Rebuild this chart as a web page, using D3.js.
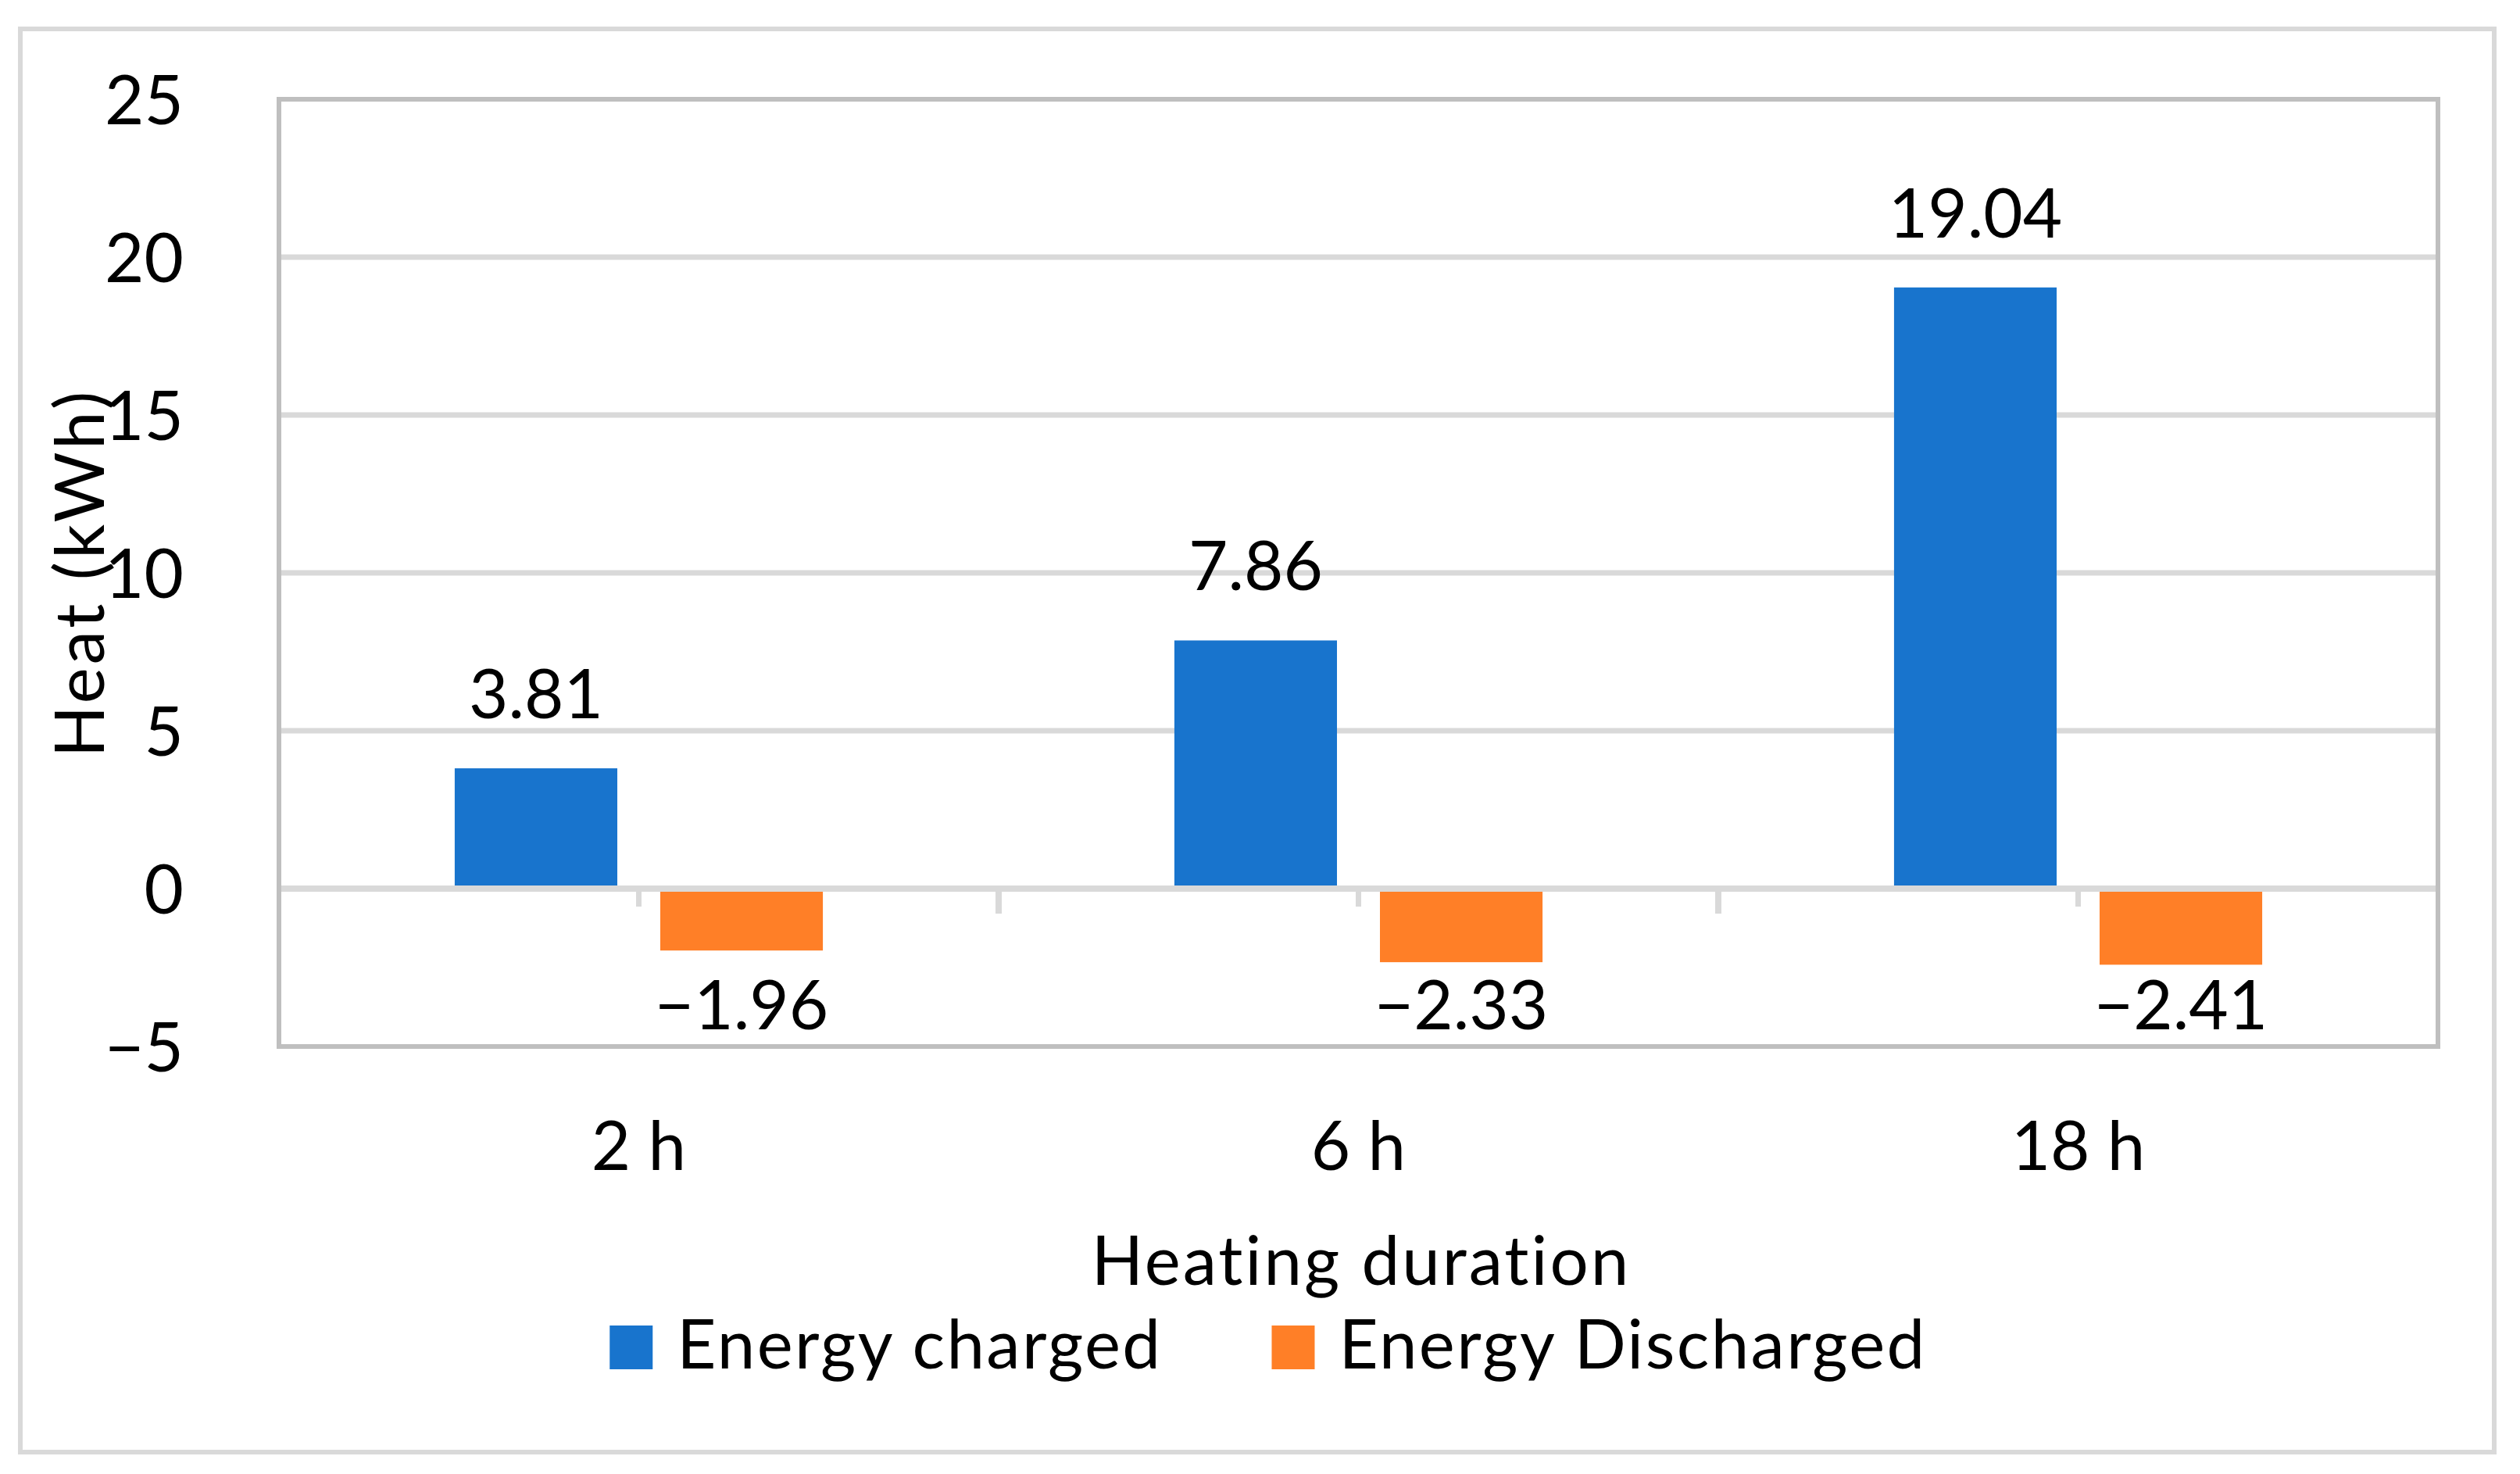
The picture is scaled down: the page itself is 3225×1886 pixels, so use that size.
<!DOCTYPE html>
<html><head><meta charset="utf-8">
<script src="https://cdn.jsdelivr.net/npm/d3@7"></script>
<style>
body{margin:0;background:#fff}
svg{display:block}
text{font-family:Lato,"Open Sans",sans-serif;fill:#000}
</style>
</head><body>
<svg id="c" width="3225" height="1886"></svg>
<script>
const categories = ["2 h", "6 h", "18 h"];
const seriesNames = ["Energy charged", "Energy Discharged"];
const energyCharged = [3.81, 7.86, 19.04];
const energyDischarged = [-1.96, -2.33, -2.41];
const yTickValues = [-5, 0, 5, 10, 15, 20, 25];
const seriesColors = ["#1874CD", "#FF7F27"];
const xTitle = "Heating duration";
const yTitle = "Heat (kWh)";

const W = 3225, H = 1886;
const FS = 87;
const LS = "3px";
const plot = {left: 357, right: 3120, top: 127, bottom: 1339};
const svg = d3.select("#c");

// outer border
svg.append("rect").attr("x", 26).attr("y", 37).attr("width", 3192 - 26).attr("height", 1858 - 37)
  .attr("fill", "none").attr("stroke", "#d9d9d9").attr("stroke-width", 6);

const x0 = d3.scaleBand().domain(categories).range([plot.left, plot.right]).padding(0);
const x1 = d3.scaleBand().domain(seriesNames).range([0, x0.bandwidth()]).paddingInner(0.209).paddingOuter(0.855);
const y = d3.scaleLinear().domain([-5, 25]).range([plot.bottom, plot.top]);

const fmt = v => d3.format(".2f")(v);

// gridlines (excluding zero and borders)
svg.append("g").selectAll("line").data(yTickValues.filter(v => v !== 0 && v !== -5 && v !== 25)).join("line")
  .attr("x1", plot.left).attr("x2", plot.right)
  .attr("y1", d => y(d)).attr("y2", d => y(d))
  .attr("stroke", "#d9d9d9").attr("stroke-width", 7);

// y tick labels via axis
const yAxis = svg.append("g").attr("transform", `translate(${plot.left},0)`)
  .call(d3.axisLeft(y).tickValues(yTickValues).tickSize(0).tickPadding(122).tickFormat(d3.format("d")));
yAxis.select(".domain").remove();
yAxis.selectAll("text").attr("font-size", FS).attr("font-family", "Lato").attr("fill", "#000").attr("dy", "0.36em");

// bars
const data = categories.map((c, i) => ({cat: c, vals: [
  {s: seriesNames[0], v: energyCharged[i], c: seriesColors[0]},
  {s: seriesNames[1], v: energyDischarged[i], c: seriesColors[1]}
]}));
const groups = svg.append("g").selectAll("g").data(data).join("g")
  .attr("transform", d => `translate(${x0(d.cat)},0)`);
groups.selectAll("rect").data(d => d.vals).join("rect")
  .attr("x", d => x1(d.s)).attr("width", x1.bandwidth())
  .attr("y", d => y(Math.max(0, d.v))).attr("height", d => Math.abs(y(d.v) - y(0)))
  .attr("fill", d => d.c);

// zero line
svg.append("line").attr("x1", plot.left).attr("x2", plot.right).attr("y1", y(0)).attr("y2", y(0))
  .attr("stroke", "#d9d9d9").attr("stroke-width", 8);

// category ticks (boundaries and centers)
const boundaries = categories.map(c => x0(c)).concat([x0(categories[categories.length - 1]) + x0.bandwidth()]);
svg.append("g").selectAll("line").data(boundaries.slice(1, -1)).join("line")
  .attr("x1", d => d).attr("x2", d => d).attr("y1", y(0) + 4).attr("y2", y(0) + 32)
  .attr("stroke", "#d9d9d9").attr("stroke-width", 8);
svg.append("g").selectAll("line").data(categories).join("line")
  .attr("x1", d => x0(d) + x0.bandwidth() / 2).attr("x2", d => x0(d) + x0.bandwidth() / 2)
  .attr("y1", y(0) + 4).attr("y2", y(0) + 23)
  .attr("stroke", "#d9d9d9").attr("stroke-width", 7);

// plot border
svg.append("rect").attr("x", plot.left).attr("y", plot.top)
  .attr("width", plot.right - plot.left).attr("height", plot.bottom - plot.top)
  .attr("fill", "none").attr("stroke", "#bfbfbf").attr("stroke-width", 6);

// data labels
groups.selectAll("text.lbl").data(d => d.vals).join("text").attr("class", "lbl")
  .attr("x", d => x1(d.s) + x1.bandwidth() / 2)
  .attr("y", d => d.v >= 0 ? y(d.v) - 64 : y(-5) - 22)
  .attr("text-anchor", "middle").attr("font-size", FS)
  .text(d => d.v < 0 ? "\u2212" + fmt(-d.v) : fmt(d.v));

// x axis labels
const xAxis = svg.append("g").attr("transform", `translate(0,${plot.bottom})`)
  .call(d3.axisBottom(x0).tickSize(0).tickPadding(0));
xAxis.select(".domain").remove();
xAxis.selectAll("text").attr("font-size", FS).attr("font-family", "Lato").attr("fill", "#000")
  .attr("dy", null).attr("y", 158);

// axis titles
svg.append("text").attr("x", 1742).attr("y", 1644)
  .attr("text-anchor", "middle").attr("font-size", FS).attr("letter-spacing", LS).text(xTitle);
svg.append("text").attr("transform", `translate(133,${(plot.top + plot.bottom) / 2}) rotate(-90)`)
  .attr("text-anchor", "middle").attr("font-size", FS).attr("letter-spacing", "4px").text(yTitle);

// legend
const leg = svg.append("g");
const items = leg.selectAll("g").data(seriesNames).join("g");
items.append("rect").attr("width", 55).attr("height", 56).attr("y", 1696)
  .attr("fill", (d, i) => seriesColors[i]);
items.append("text").attr("y", 1751).attr("font-size", FS).attr("letter-spacing", "2.4px").text(d => d);
let widths = [];
items.select("text").each(function () { widths.push(this.getComputedTextLength()); });
const sw = 55, gapT = 31, gapI = 140;
const total = widths.reduce((a, w) => a + sw + gapT + w, 0) + gapI * (widths.length - 1);
let cx = 1623 - total / 2;
items.each(function (d, i) {
  const g = d3.select(this);
  g.select("rect").attr("x", cx);
  g.select("text").attr("x", cx + sw + gapT);
  cx += sw + gapT + widths[i] + gapI;
});
</script>
</body></html>
